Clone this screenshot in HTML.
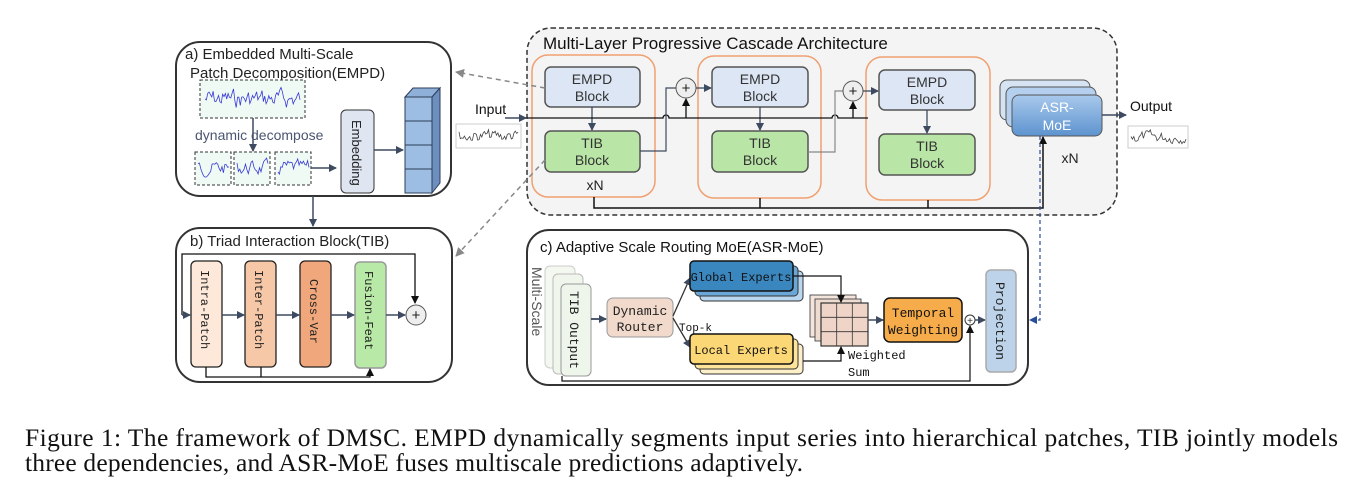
<!DOCTYPE html>
<html><head><meta charset="utf-8"><style>
html,body{margin:0;padding:0;background:#fff;width:1363px;height:492px;overflow:hidden}
svg{display:block}
.s{font-family:"Liberation Sans",sans-serif}
.m{font-family:"Liberation Mono",monospace}
</style></head><body>
<svg id="g" width="1363" height="492" viewBox="0 0 1363 492" xmlns="http://www.w3.org/2000/svg">
<defs>
<marker id="a" markerWidth="8" markerHeight="8" refX="7" refY="4" orient="auto" markerUnits="userSpaceOnUse"><path d="M0,0 L8,4 L0,8 z" fill="#3d4a60"/></marker>
<marker id="k" markerWidth="8" markerHeight="8" refX="7" refY="4" orient="auto" markerUnits="userSpaceOnUse"><path d="M0,0 L8,4 L0,8 z" fill="#111"/></marker>
<marker id="gr" markerWidth="9" markerHeight="9" refX="8" refY="4.5" orient="auto" markerUnits="userSpaceOnUse"><path d="M0,0 L9,4.5 L0,9 z" fill="#888"/></marker>
<marker id="bl" markerWidth="8" markerHeight="8" refX="7" refY="4" orient="auto" markerUnits="userSpaceOnUse"><path d="M0,0 L8,4 L0,8 z" fill="#2a4f9a"/></marker>
<linearGradient id="asr" x1="0" y1="0" x2="0" y2="1"><stop offset="0" stop-color="#a9c9ec"/><stop offset="1" stop-color="#5d93cf"/></linearGradient>
</defs>

<!-- Panel a -->
<rect x="176" y="42" width="275" height="154" rx="24" fill="#fff" stroke="#333" stroke-width="2"/>
<text x="185" y="59" class="s" font-size="15" fill="#222">a) Embedded Multi-Scale</text>
<text x="190" y="78" class="s" font-size="15" fill="#222">Patch Decomposition(EMPD)</text>
<rect x="200" y="80" width="105" height="38" fill="#eefaf3" stroke="#333" stroke-dasharray="3,2"/>
<g id="s1"></g>
<line x1="253" y1="118" x2="253" y2="151" stroke="#3d4a60" stroke-width="1.5" marker-end="url(#a)"/>
<text x="195" y="140" class="s" font-size="14" fill="#4a5570">dynamic decompose</text>
<rect x="195" y="152" width="36" height="33" fill="#eefaf3" stroke="#333" stroke-dasharray="3,2"/>
<rect x="234" y="152" width="36" height="33" fill="#eefaf3" stroke="#333" stroke-dasharray="3,2"/>
<rect x="275" y="152" width="36" height="33" fill="#eefaf3" stroke="#333" stroke-dasharray="3,2"/>
<line x1="311" y1="168" x2="336" y2="168" stroke="#3d4a60" stroke-width="1.5" marker-end="url(#a)"/>
<rect x="341" y="110" width="33" height="83" rx="5" fill="#dfe6f2" stroke="#333"/>
<text transform="translate(352,120) rotate(90)" class="s" font-size="13" fill="#222">Embedding</text>
<line x1="374" y1="150" x2="403" y2="150" stroke="#3d4a60" stroke-width="1.5" marker-end="url(#a)"/>
<polygon points="405,97 413,88 440,88 432,97" fill="#8fb0d8" stroke="#2c3e5a"/>
<polygon points="432,97 440,88 440,183 432,193" fill="#6c8fbf" stroke="#2c3e5a"/>
<rect x="405" y="97" width="27" height="24" fill="#9dbde3" stroke="#2c3e5a"/>
<rect x="405" y="121" width="27" height="24" fill="#9dbde3" stroke="#2c3e5a"/>
<rect x="405" y="145" width="27" height="24" fill="#9dbde3" stroke="#2c3e5a"/>
<rect x="405" y="169" width="27" height="24" fill="#9dbde3" stroke="#2c3e5a"/>
<line x1="313" y1="196" x2="313" y2="226" stroke="#3d4a60" stroke-width="1.5" marker-end="url(#a)"/>

<!-- Panel b -->
<rect x="176" y="228" width="276" height="154" rx="24" fill="#fff" stroke="#333" stroke-width="2"/>
<text x="190" y="246" class="s" font-size="15" fill="#222">b) Triad Interaction Block(TIB)</text>
<polyline points="182,315 182,254 415,254 415,303" fill="none" stroke="#111" stroke-width="1.3" marker-end="url(#k)"/>
<line x1="182" y1="315" x2="190" y2="315" stroke="#3d4a60" stroke-width="1.5" marker-end="url(#a)"/>
<rect x="191" y="261" width="31" height="106" rx="5" fill="#fde8da" stroke="#222" stroke-width="1.3"/>
<rect x="245" y="261" width="31" height="106" rx="5" fill="#f6c8a8" stroke="#222" stroke-width="1.3"/>
<rect x="300" y="261" width="31" height="106" rx="5" fill="#f1a77c" stroke="#222" stroke-width="1.3"/>
<rect x="355" y="262" width="31" height="106" rx="5" fill="#b9e9a7" stroke="#999" stroke-width="1.5"/>
<text transform="translate(201,270) rotate(90)" class="m" font-size="12" fill="#222">Intra-Patch</text>
<text transform="translate(255,270) rotate(90)" class="m" font-size="12" fill="#222">Inter-Patch</text>
<text transform="translate(310,279) rotate(90)" class="m" font-size="12" fill="#222">Cross-Var</text>
<text transform="translate(365,271) rotate(90)" class="m" font-size="12" fill="#222">Fusion-Feat</text>
<line x1="222" y1="315" x2="244" y2="315" stroke="#3d4a60" stroke-width="1.5" marker-end="url(#a)"/>
<line x1="276" y1="315" x2="299" y2="315" stroke="#3d4a60" stroke-width="1.5" marker-end="url(#a)"/>
<line x1="331" y1="315" x2="354" y2="315" stroke="#3d4a60" stroke-width="1.5" marker-end="url(#a)"/>
<line x1="386" y1="315" x2="405" y2="315" stroke="#3d4a60" stroke-width="1.5" marker-end="url(#a)"/>
<circle cx="416" cy="315" r="10" fill="#eee" stroke="#555"/>
<text x="416" y="320" text-anchor="middle" class="s" font-size="15" fill="#222">+</text>
<polyline points="206,367 206,377 370,377 370,369" fill="none" stroke="#111" stroke-width="1.3" marker-end="url(#k)"/>
<line x1="261" y1="367" x2="261" y2="377" stroke="#111" stroke-width="1.3"/>

<!-- Big panel -->
<rect x="527" y="28" width="590" height="187" rx="24" fill="#f4f4f4" stroke="#333" stroke-width="1.5" stroke-dasharray="5,3"/>
<text x="543" y="49" class="s" font-size="17" fill="#111">Multi-Layer Progressive Cascade Architecture</text>
<rect x="532" y="55" width="123" height="142" rx="16" fill="none" stroke="#f0a070" stroke-width="1.5"/>
<rect x="698" y="56" width="123" height="142" rx="16" fill="none" stroke="#f0a070" stroke-width="1.5"/>
<rect x="866" y="57" width="124" height="143" rx="16" fill="none" stroke="#f0a070" stroke-width="1.5"/>
<g class="s" font-size="14" fill="#333" text-anchor="middle">
<rect x="545" y="67" width="95" height="40" rx="6" fill="#dde6f5" stroke="#555" stroke-width="1.5"/>
<text x="592" y="84">EMPD</text><text x="592" y="101">Block</text>
<rect x="545" y="131" width="95" height="41" rx="6" fill="#b9e6a6" stroke="#555" stroke-width="1.5"/>
<text x="592" y="148">TIB</text><text x="592" y="165">Block</text>
<rect x="712" y="67" width="96" height="40" rx="6" fill="#dde6f5" stroke="#555" stroke-width="1.5"/>
<text x="760" y="84">EMPD</text><text x="760" y="101">Block</text>
<rect x="712" y="131" width="96" height="41" rx="6" fill="#b9e6a6" stroke="#555" stroke-width="1.5"/>
<text x="760" y="148">TIB</text><text x="760" y="165">Block</text>
<rect x="879" y="70" width="96" height="40" rx="6" fill="#dde6f5" stroke="#555" stroke-width="1.5"/>
<text x="927" y="87">EMPD</text><text x="927" y="104">Block</text>
<rect x="879" y="134" width="96" height="41" rx="6" fill="#b9e6a6" stroke="#555" stroke-width="1.5"/>
<text x="927" y="151">TIB</text><text x="927" y="168">Block</text>
<text x="595" y="190" fill="#222">xN</text>
<text x="1070" y="163" fill="#222">xN</text>
</g>
<line x1="592" y1="107" x2="592" y2="130" stroke="#3d4a60" stroke-width="1.3" marker-end="url(#a)"/>
<line x1="760" y1="107" x2="760" y2="130" stroke="#3d4a60" stroke-width="1.3" marker-end="url(#a)"/>
<line x1="927" y1="110" x2="927" y2="133" stroke="#3d4a60" stroke-width="1.3" marker-end="url(#a)"/>
<path d="M520,118 L663,118 a3,3 0 0 1 6,0 L832,118 a3,3 0 0 1 6,0 L868,118" fill="none" stroke="#111" stroke-width="1.3"/>
<line x1="686" y1="118" x2="686" y2="99" stroke="#111" stroke-width="1.3" marker-end="url(#k)"/>
<line x1="853" y1="118" x2="853" y2="102" stroke="#111" stroke-width="1.3" marker-end="url(#k)"/>
<polyline points="640,151 666,151 666,88 676,88" fill="none" stroke="#3d4a60" stroke-width="1.2"/>
<polyline points="808,152 835,152 835,91 843,91" fill="none" stroke="#888" stroke-width="1.2"/>
<circle cx="686" cy="88" r="10" fill="#eee" stroke="#555"/>
<text x="686" y="93" text-anchor="middle" class="s" font-size="15" fill="#222">+</text>
<circle cx="853" cy="91" r="10" fill="#eee" stroke="#555"/>
<text x="853" y="96" text-anchor="middle" class="s" font-size="15" fill="#222">+</text>
<line x1="696" y1="88" x2="711" y2="88" stroke="#3d4a60" stroke-width="1.3" marker-end="url(#a)"/>
<line x1="863" y1="91" x2="878" y2="91" stroke="#3d4a60" stroke-width="1.3" marker-end="url(#a)"/>
<polyline points="594,197 594,208 1043,208 1043,137" fill="none" stroke="#111" stroke-width="1.5" marker-end="url(#k)"/>
<line x1="760" y1="198" x2="760" y2="208" stroke="#111" stroke-width="1.5"/>
<line x1="928" y1="200" x2="928" y2="208" stroke="#111" stroke-width="1.5"/>
<rect x="1000" y="80" width="90" height="40" rx="7" fill="#d5e3f3" stroke="#555"/>
<rect x="1006" y="87" width="90" height="40" rx="7" fill="#b5d0ee" stroke="#555"/>
<rect x="1012" y="95" width="90" height="41" rx="7" fill="url(#asr)" stroke="#555"/>
<text x="1057" y="112" text-anchor="middle" class="s" font-size="14" fill="#fff">ASR-</text>
<text x="1057" y="130" text-anchor="middle" class="s" font-size="14" fill="#fff">MoE</text>
<line x1="1102" y1="115" x2="1126" y2="115" stroke="#3d4a60" stroke-width="1.5" marker-end="url(#a)"/>
<text x="1130" y="111" class="s" font-size="14" fill="#111">Output</text>
<rect x="1128" y="126" width="60" height="22" fill="#fff" stroke="#ccc"/>
<g id="s2"></g>
<text x="475" y="114" class="s" font-size="14" fill="#111">Input</text>
<line x1="505" y1="118" x2="526" y2="118" stroke="#3d4a60" stroke-width="1.5" marker-end="url(#a)"/>
<rect x="456" y="124" width="65" height="24" fill="#fff" stroke="#ccc"/>
<g id="s3"></g>
<line x1="545" y1="88" x2="456" y2="72" stroke="#888" stroke-width="1.5" stroke-dasharray="5,4" marker-end="url(#gr)"/>
<line x1="545" y1="160" x2="456" y2="256" stroke="#888" stroke-width="1.5" stroke-dasharray="5,4" marker-end="url(#gr)"/>
<polyline points="1040,136 1040,320 1030,320" fill="none" stroke="#2a4f9a" stroke-width="1.2" stroke-dasharray="4,3" marker-end="url(#bl)"/>

<!-- Panel c -->
<rect x="527" y="230" width="501" height="155" rx="22" fill="#fff" stroke="#333" stroke-width="2"/>
<text x="540" y="252" class="s" font-size="15" fill="#111">c) Adaptive Scale Routing MoE(ASR-MoE)</text>
<text transform="translate(532,267) rotate(90)" class="s" font-size="14" fill="#555">Multi-Scale</text>
<rect x="545" y="266" width="30" height="102" rx="5" fill="#f3f8f0" stroke="#ccc"/>
<rect x="553" y="274" width="30" height="100" rx="5" fill="#f0f6ec" stroke="#bbb"/>
<rect x="561" y="284" width="30" height="92" rx="5" fill="#eef5ea" stroke="#999"/>
<text transform="translate(570,291) rotate(90)" class="m" font-size="13" fill="#222">TIB Output</text>
<line x1="591" y1="319" x2="606" y2="319" stroke="#3d4a60" stroke-width="1.8" marker-end="url(#a)"/>
<rect x="607" y="298" width="66" height="39" rx="6" fill="#f1d9cb" stroke="#999"/>
<text x="640" y="315" text-anchor="middle" class="m" font-size="13" fill="#222">Dynamic</text>
<text x="640" y="331" text-anchor="middle" class="m" font-size="13" fill="#222">Router</text>
<line x1="673" y1="316" x2="690" y2="278" stroke="#333" stroke-width="1.3" marker-end="url(#a)"/>
<line x1="673" y1="318" x2="690" y2="347" stroke="#333" stroke-width="1.3" marker-end="url(#a)"/>
<text x="679" y="331" class="m" font-size="11" fill="#111">Top-k</text>
<rect x="700" y="271" width="103" height="30" rx="4" fill="#b8d7ef" stroke="#333"/>
<rect x="695" y="266" width="103" height="30" rx="4" fill="#6aa6d6" stroke="#333"/>
<rect x="690" y="261" width="103" height="30" rx="4" fill="#3a86be" stroke="#111" stroke-width="1.5"/>
<text x="741" y="281" text-anchor="middle" class="m" font-size="12" fill="#111">Global Experts</text>
<rect x="700" y="344" width="103" height="30" rx="4" fill="#fdf0c8" stroke="#333"/>
<rect x="695" y="339" width="103" height="30" rx="4" fill="#fde49a" stroke="#333"/>
<rect x="690" y="334" width="103" height="30" rx="4" fill="#fbd775" stroke="#111" stroke-width="1.5"/>
<text x="741" y="354" text-anchor="middle" class="m" font-size="12" fill="#111">Local Experts</text>
<g stroke="#333" stroke-width="0.8">
<rect x="810" y="295" width="46" height="42" fill="#f3e4dc"/>
<rect x="815" y="299" width="46" height="42" fill="#efdcd1"/>
<rect x="821" y="303" width="47" height="43" fill="#eed5c8" stroke-width="1.2"/>
<line x1="836.7" y1="303" x2="836.7" y2="346"/><line x1="852.3" y1="303" x2="852.3" y2="346"/>
<line x1="821" y1="317.3" x2="868" y2="317.3"/><line x1="821" y1="331.7" x2="868" y2="331.7"/>
</g>
<polyline points="793,276 841,276 841,302" fill="none" stroke="#111" stroke-width="1.2" marker-end="url(#k)"/>
<polyline points="803,361 841,361 841,347" fill="none" stroke="#111" stroke-width="1.2" marker-end="url(#k)"/>
<text x="848" y="359" class="m" font-size="12" fill="#111">Weighted</text>
<text x="848" y="376" class="m" font-size="12" fill="#111">Sum</text>
<line x1="868" y1="320" x2="883" y2="320" stroke="#3d4a60" stroke-width="1.5" marker-end="url(#a)"/>
<rect x="884" y="298" width="78" height="44" rx="6" fill="#f6ac4a" stroke="#111" stroke-width="1.5"/>
<text x="923" y="317" text-anchor="middle" class="m" font-size="13" fill="#111">Temporal</text>
<text x="923" y="334" text-anchor="middle" class="m" font-size="13" fill="#111">Weighting</text>
<circle cx="970" cy="320" r="5" fill="#fff" stroke="#333"/>
<text x="970" y="324" text-anchor="middle" class="s" font-size="10" fill="#333">+</text>
<line x1="975" y1="320" x2="985" y2="320" stroke="#3d4a60" stroke-width="1.5" marker-end="url(#a)"/>
<polyline points="562,376 562,381 970,381 970,326" fill="none" stroke="#111" stroke-width="1.2" marker-end="url(#k)"/>
<rect x="986" y="270" width="30" height="102" rx="5" fill="#bcd3ea" stroke="#aaa" stroke-width="1.5"/>
<text transform="translate(996,282) rotate(90)" class="m" font-size="13" fill="#222">Projection</text>

<!-- caption -->
<text x="25" y="446" font-family="Liberation Serif,serif" font-size="25.5" fill="#111" textLength="1313" lengthAdjust="spacing">Figure 1: The framework of DMSC. EMPD dynamically segments input series into hierarchical patches, TIB jointly models</text>
<text x="25" y="471" font-family="Liberation Serif,serif" font-size="25.5" fill="#111" textLength="778" lengthAdjust="spacing">three dependencies, and ASR-MoE fuses multiscale predictions adaptively.</text>
</svg>
<script>
(function(){
var seed=7;function r(){seed=(seed*9301+49297)%233280;return seed/233280;}
function series(id,x0,x1,yc,amp,n,col){
 var g=document.getElementById(id)||document.getElementById('g');var pts=[],v=0;
 for(var i=0;i<=n;i++){v=v*0.5+(r()-0.5)*amp;pts.push((x0+(x1-x0)*i/n).toFixed(1)+','+(yc+v).toFixed(1));}
 var p=document.createElementNS('http://www.w3.org/2000/svg','polyline');
 p.setAttribute('points',pts.join(' '));p.setAttribute('fill','none');p.setAttribute('stroke',col);p.setAttribute('stroke-width','0.8');
 g.appendChild(p);}
series('s1',205,300,99,16,70,'#3a3ad8');
series('g',198,229,168,12,22,'#3a3ad8');
series('g',237,268,168,12,22,'#3a3ad8');
series('g',278,309,168,12,22,'#3a3ad8');
series('s2',1131,1186,137,10,40,'#444');
series('s3',459,518,136,10,44,'#444');
})();
</script>
</body></html>
